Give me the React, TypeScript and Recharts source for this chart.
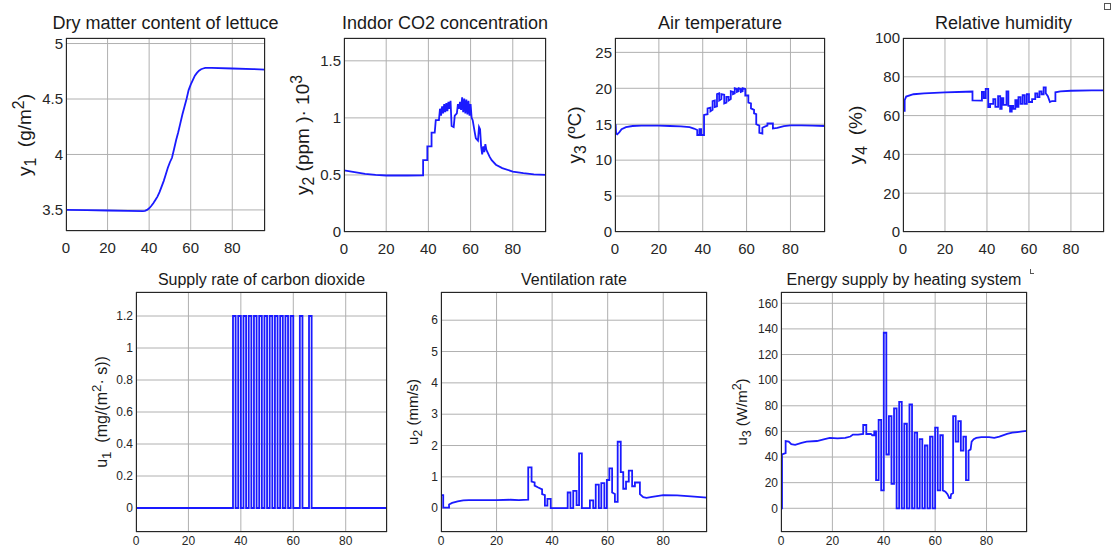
import { LineChart, Line, XAxis, YAxis, CartesianGrid } from 'recharts';

type Pt = [number, number];

const FONT = '"Liberation Sans", Arial, Helvetica, sans-serif';
const X_MAX = 95.75;
const xTicks = [0, 20, 40, 60, 80];

// y1 dry matter (g/m2)
const dryMatter: Pt[] = [
  [0, 3.5], [10, 3.498], [20, 3.495], [30, 3.492], [37, 3.49], [38, 3.492], [39, 3.5],
  [40, 3.515], [41, 3.535], [42, 3.56], [43, 3.59], [44, 3.62], [45, 3.66], [46, 3.71],
  [47, 3.76], [48, 3.82], [49, 3.88], [50, 3.93], [51, 3.97], [52, 4.05], [53, 4.13],
  [54, 4.2], [55, 4.28], [56, 4.36], [57, 4.43], [58, 4.5], [59, 4.58], [60, 4.63],
  [61, 4.67], [62, 4.71], [63, 4.735], [64, 4.755], [65, 4.768], [66, 4.775], [67, 4.78],
  [70, 4.78], [80, 4.775], [90, 4.77], [95.75, 4.765],
];

// y2 indoor CO2 (ppm * 1e3)
const co2Indoor: Pt[] = [
  [0, 0.54], [5, 0.525], [10, 0.51], [15, 0.5], [20, 0.495], [30, 0.495], [37.5, 0.497],
  [37.5, 0.63], [39.5, 0.63], [39.5, 0.75], [41.5, 0.75], [41.5, 0.87], [43, 0.87],
  [43.5, 0.98], [45, 0.98], [45.5, 1.08], [46, 1.02], [46.5, 1.1], [47, 1.04], [47.5, 1.12],
  [48, 1.05], [48.5, 1.13], [49, 1.06], [49.5, 1.14], [50, 1.08], [50.5, 1.15], [51, 0.93],
  [52, 0.92], [52.5, 1.02], [53.5, 1.04], [54, 1.12], [54.5, 1.08], [55, 1.14], [55.5, 1.07],
  [56, 1.18], [56.5, 1.05], [57, 1.17], [57.5, 1.04], [58, 1.16], [58.5, 1.03], [59, 1.15],
  [59.5, 1.02], [60, 1.12], [60.5, 1.0], [61, 0.98], [62, 0.87], [62.5, 0.82], [63.5, 0.8],
  [64, 0.92], [64.5, 0.9], [65, 0.75], [65.5, 0.68], [66, 0.75], [66.5, 0.7], [67, 0.77],
  [67.5, 0.72], [68, 0.7], [69, 0.66], [70, 0.63], [72, 0.59], [75, 0.56], [80, 0.53],
  [85, 0.515], [90, 0.505], [95.75, 0.5],
];

// y3 air temperature (C)
const airTemp: Pt[] = [
  [0, 15.0], [0.3, 14.9], [0.5, 13.7], [1, 13.6], [2, 13.9], [3, 14.3], [5, 14.6], [8, 14.75],
  [12, 14.8], [20, 14.8], [25, 14.75], [30, 14.7], [34, 14.6], [36, 14.4], [37.5, 14.2],
  [37.5, 13.5], [38.5, 13.5], [38.5, 14.3], [39.3, 14.3], [39.3, 13.5], [40.6, 13.5],
  [40.6, 16.3], [42.2, 16.4], [42.2, 17.2], [43.5, 17.3], [43.5, 16.8], [44.5, 17.0],
  [44.5, 18.2], [45.5, 18.3], [45.5, 17.4], [46.5, 17.5], [46.5, 19.2], [47.5, 19.3],
  [47.5, 18.3], [48.5, 18.5], [48.5, 19.2], [49.8, 19.1], [49.8, 17.9], [50.8, 18.0],
  [50.8, 18.8], [51.8, 18.8], [51.8, 18.3], [52.8, 18.5], [52.8, 19.6], [53.8, 19.5],
  [53.8, 19.2], [54.6, 19.3], [54.6, 20.0], [55.6, 19.9], [55.6, 19.5], [56.4, 19.6],
  [56.4, 20.0], [57.4, 19.9], [57.4, 19.5], [58.2, 19.6], [58.2, 20.0], [59.4, 19.9],
  [59.4, 19.0], [60.8, 19.0], [60.8, 18.0], [62, 17.9], [62, 17.2], [63.4, 17.0],
  [63.4, 16.5], [64.4, 16.4], [64.4, 15.0], [65.8, 14.8], [65.8, 13.8], [67.2, 13.7],
  [67.2, 14.5], [68.5, 14.7], [69.5, 14.8], [69.5, 15.1], [72, 15.1], [72, 14.4],
  [74, 14.5], [77, 14.75], [80, 14.85], [85, 14.85], [90, 14.8], [95.75, 14.75],
];

// y4 relative humidity (%)
const relHumidity: Pt[] = [
  [0, 62.5], [0.8, 62.5], [0.8, 68], [1.5, 69.8], [5, 71], [10, 71.5], [20, 72], [30, 72.3],
  [33.1, 72.4], [33.1, 67.8], [37.6, 67.7], [37.6, 72.2], [38.5, 72.2], [38.5, 69],
  [39.4, 69], [39.4, 73.8], [40.6, 73.8], [40.6, 64.4], [41.5, 64.4], [41.5, 66], [43, 66],
  [43, 68.5], [44, 68.5], [44, 64.5], [45.3, 64.5], [45.3, 70], [46.3, 70], [46.3, 63.5],
  [47, 63.5], [47, 69], [47.8, 69], [47.8, 65.5], [49.3, 65.5], [49.3, 72.5], [50.2, 72.5],
  [50.2, 65], [51, 65], [51, 62], [51.8, 62], [51.8, 65], [52.5, 65], [52.5, 63.5],
  [53.5, 63.5], [53.5, 68], [54.3, 68], [54.3, 64.5], [55, 64.5], [55, 69.5], [56, 69.5],
  [56, 66], [57, 66], [57, 70.5], [58, 70.5], [58, 66], [59, 66], [59, 71], [60, 71],
  [60, 67], [61.5, 67], [61.5, 68.5], [63, 68.5], [63, 71.5], [64, 71.5], [64, 69.5],
  [65, 69.5], [65, 72.5], [66, 72.5], [66, 71], [67, 71], [67, 74.5], [68, 74.5],
  [68, 71.5], [69, 70], [70, 67], [71, 67.5], [72.6, 67.5], [72.6, 72], [75, 72.5],
  [80, 72.8], [90, 73], [95.75, 73],
];

// u1 CO2 supply rate (mg/(m2 s)), step after each point
const co2Supply: Pt[] = [
  [0, 0], [37, 1.2], [38, 0], [39, 1.2], [40, 0], [41, 1.2], [42, 0], [43, 1.2], [44, 0],
  [45, 1.2], [46, 0], [47, 1.2], [48, 0], [49, 1.2], [50, 0], [51, 1.2], [52, 0],
  [53, 1.2], [54, 0], [55, 1.2], [56, 0], [57, 1.2], [58, 0], [59, 1.2], [60, 0],
  [62.5, 1.2], [63.5, 0], [66, 1.2], [67, 0], [95.75, 0],
];

// u2 ventilation rate (mm/s)
const ventilation: Pt[] = [
  [0, 0.42], [0.8, 0.42], [0.8, 0.02], [2.9, 0.02], [2.9, 0.12], [4, 0.17], [6, 0.22],
  [8, 0.25], [10, 0.26], [15, 0.26], [20, 0.26], [25, 0.27], [28, 0.26], [31.4, 0.27],
  [31.4, 1.3], [32.6, 1.3], [32.6, 0.85], [33.7, 0.82], [33.7, 0.72], [35, 0.66],
  [36.4, 0.6], [36.4, 0.45], [37.4, 0.42], [37.4, 0.08], [38.3, 0.08], [38.3, 0.3],
  [39.5, 0.3], [39.5, 0], [45.6, 0], [45.6, 0.5], [46.6, 0.5], [46.6, 0], [47.6, 0],
  [47.6, 0.55], [48.8, 0.55], [48.8, 0.1], [49.7, 0.1], [49.7, 1.75], [50.7, 1.75],
  [50.7, 0], [53.6, 0], [53.6, 0.25], [54.8, 0.25], [54.8, 0], [55.7, 0], [55.7, 0.75],
  [56.8, 0.75], [56.8, 0], [57.7, 0], [57.7, 0.8], [58.8, 0.8], [58.8, 0], [59.7, 0],
  [59.7, 0.9], [60.6, 0.9], [60.6, 1.27], [61.6, 1.27], [61.6, 0.5], [62.6, 0.45],
  [62.6, 0.2], [63.6, 0.2], [63.6, 2.12], [64.7, 2.12], [64.7, 1.15], [65.6, 1.15],
  [65.6, 0.62], [66.6, 0.62], [66.6, 0.85], [67.6, 0.85], [67.6, 1.2], [68.8, 1.2],
  [68.8, 0.7], [69.8, 0.7], [69.8, 0.82], [71.6, 0.82], [71.6, 0.45], [72.8, 0.35],
  [74, 0.33], [76, 0.36], [80, 0.42], [85, 0.41], [90, 0.38], [95.75, 0.34],
];

// u3 energy supply by heating (W/m2)
const heating: Pt[] = [
  [0, 0], [0.4, 0], [0.4, 42], [1.8, 43], [1.8, 52.5], [3, 52], [4, 50], [5.5, 49.5],
  [8, 51], [10, 52], [14, 52.5], [17, 54], [19, 55], [22, 54.5], [25, 55], [27, 56],
  [28, 57.5], [30, 57.5], [32, 58], [32, 65], [33.2, 65], [33.2, 58], [35, 58], [35.5, 57],
  [36.3, 57], [36.3, 60], [37, 60], [37, 22], [38, 22], [38, 69], [39, 69], [39, 14],
  [40, 14], [40, 137], [41, 137], [41, 42], [42, 42], [42, 72], [43, 72], [43, 19],
  [44, 19], [44, 78], [45, 78], [45, 0], [46, 0], [46, 83], [47, 83], [47, 0], [48, 0],
  [48, 66], [49, 66], [49, 0], [50, 0], [50, 81], [51, 81], [51, 0], [52, 0], [52, 59],
  [53, 59], [53, 0], [54, 0], [54, 54], [55, 54], [55, 0], [56, 0], [56, 49], [57, 49],
  [57, 0], [58, 0], [58, 56], [59, 56], [59, 0], [60, 0], [60, 63], [61, 63], [61, 14],
  [62, 14], [62, 57], [63, 57], [63, 14], [64, 13], [64.8, 11], [65.5, 8], [66, 8],
  [66.2, 11], [67, 12], [67, 72], [68, 72], [68, 52], [69, 52], [69, 68], [70, 68],
  [70, 45], [71, 45], [71, 56], [72, 56], [72, 22], [73, 22], [73, 45], [73.8, 46],
  [74.2, 52], [75, 54], [76, 55], [78, 55.5], [81, 55.5], [83, 55], [85, 56], [88, 58],
  [90, 59], [92, 59.5], [94, 60], [95.75, 60.5],
];

type PanelProps = {
  x: number;
  y: number;
  w: number;
  h: number;
  title: string;
  titleY: number;
  titleSize: number;
  label: React.ReactNode;
  labelX: number;
  labelSize: number;
  tickSize: number;
  series: Pt[];
  yDomain: [number, number];
  yTicks: number[];
  xGap: number;
  step?: boolean;
};

function Panel(p: PanelProps) {
  const data = p.series.map(([t, v]) => ({ t, v }));
  const tickStyle = { fontSize: p.tickSize, fill: '#262626', fontFamily: FONT };
  return (
    <>
      <div
        style={{
          position: 'absolute',
          left: p.x + p.w / 2,
          top: p.titleY,
          transform: 'translate(-50%, -50%)',
          fontSize: p.titleSize,
          whiteSpace: 'nowrap',
          color: '#1a1a1a',
        }}
      >
        {p.title}
      </div>
      <div
        style={{
          position: 'absolute',
          left: p.labelX,
          top: p.y + p.h / 2,
          transform: 'translate(-50%, -50%) rotate(-90deg)',
          fontSize: p.labelSize,
          whiteSpace: 'nowrap',
          color: '#1a1a1a',
          lineHeight: 1,
        }}
      >
        {p.label}
      </div>
      <div style={{ position: 'absolute', left: p.x - 40, top: p.y - 10 }}>
        <LineChart width={p.w + 45} height={p.h + 42} data={data} margin={{ top: 10, right: 5, bottom: 0, left: 0 }}>
          <CartesianGrid stroke="#b0b0b0" />
          <XAxis
            dataKey="t"
            type="number"
            domain={[0, X_MAX]}
            ticks={xTicks}
            interval={0}
            allowDataOverflow
            axisLine={false}
            tickLine={false}
            tickSize={0}
            tickMargin={p.xGap}
            height={32}
            tick={tickStyle}
          />
          <YAxis
            type="number"
            domain={p.yDomain}
            ticks={p.yTicks}
            interval={0}
            allowDataOverflow
            axisLine={false}
            tickLine={false}
            tickSize={0}
            tickMargin={3}
            width={40}
            tick={tickStyle}
          />
          <Line
            dataKey="v"
            type={p.step ? 'stepAfter' : 'linear'}
            stroke="#1a1aff"
            strokeWidth={1.8}
            dot={false}
            isAnimationActive={false}
          />
        </LineChart>
      </div>
      <div
        style={{
          position: 'absolute',
          left: p.x,
          top: p.y,
          width: p.w,
          height: p.h,
          border: '1px solid #262626',
          boxSizing: 'border-box',
          pointerEvents: 'none',
        }}
      />
    </>
  );
}

export default function App() {
  return (
    <div
      style={{
        position: 'absolute',
        left: 0,
        top: 0,
        width: 1113,
        height: 549,
        background: '#fff',
        fontFamily: FONT,
        overflow: 'hidden',
      }}
    >
      <Panel
        x={66} y={38} w={199} h={193}
        title="Dry matter content of lettuce" titleY={23} titleSize={18}
        label={<span>y<sub>1</sub>&nbsp;&nbsp;(g/m<sup>2</sup>)</span>} labelX={25} labelSize={19}
        tickSize={15} series={dryMatter} yDomain={[3.31, 5.05]} yTicks={[3.5, 4, 4.5, 5]} xGap={11}
      />
      <Panel
        x={344} y={38} w={202} h={194}
        title="Inddor CO2 concentration" titleY={23} titleSize={18}
        label={<span>y<sub>2</sub>&nbsp;(ppm )· 10<sup>3</sup></span>} labelX={303} labelSize={19}
        tickSize={15} series={co2Indoor} yDomain={[0, 1.7]} yTicks={[0, 0.5, 1, 1.5]} xGap={11}
      />
      <Panel
        x={615} y={38} w={210} h={194}
        title="Air temperature" titleY={23} titleSize={18}
        label={<span>y<sub>3</sub>&nbsp;(ºC)</span>} labelX={577} labelSize={19}
        tickSize={15} series={airTemp} yDomain={[0, 27]} yTicks={[0, 5, 10, 15, 20, 25]} xGap={11}
      />
      <Panel
        x={903} y={38} w={201} h={194}
        title="Relative humidity" titleY={23} titleSize={18}
        label={<span>y<sub>4</sub>&nbsp;&nbsp;(%)</span>} labelX={858} labelSize={19}
        tickSize={15} series={relHumidity} yDomain={[0, 100]} yTicks={[0, 20, 40, 60, 80, 100]} xGap={11}
      />
      <Panel
        x={136} y={292} w={251} h={240}
        title="Supply rate of carbon dioxide" titleY={280} titleSize={16}
        label={<span>u<sub>1</sub>&nbsp;&nbsp;(mg/(m<sup>2</sup>·&nbsp;s))</span>} labelX={102} labelSize={16}
        tickSize={12} series={co2Supply} yDomain={[-0.15, 1.35]} yTicks={[0, 0.2, 0.4, 0.6, 0.8, 1, 1.2]} xGap={4} step
      />
      <Panel
        x={441} y={292} w={266} h={240}
        title="Ventilation rate" titleY={280} titleSize={16}
        label={<span>u<sub>2</sub>&nbsp;(mm/s)</span>} labelX={415} labelSize={15}
        tickSize={12} series={ventilation} yDomain={[-0.76, 6.9]} yTicks={[0, 1, 2, 3, 4, 5, 6]} xGap={4}
      />
      <Panel
        x={781} y={292} w={246} h={240}
        title="Energy supply by heating system" titleY={280} titleSize={16}
        label={<span>u<sub>3</sub>&nbsp;(W/m<sup>2</sup>)</span>} labelX={742} labelSize={15}
        tickSize={12} series={heating} yDomain={[-18.5, 168.8]} yTicks={[0, 20, 40, 60, 80, 100, 120, 140, 160]} xGap={4}
      />
      <div style={{ position: 'absolute', left: 1104, top: 3, width: 7, height: 7, border: '1px solid #555', boxSizing: 'border-box' }} />
      <div style={{ position: 'absolute', left: 1030, top: 269, width: 4, height: 5, borderLeft: '1px solid #555', borderBottom: '1px solid #555', boxSizing: 'border-box' }} />
    </div>
  );
}
